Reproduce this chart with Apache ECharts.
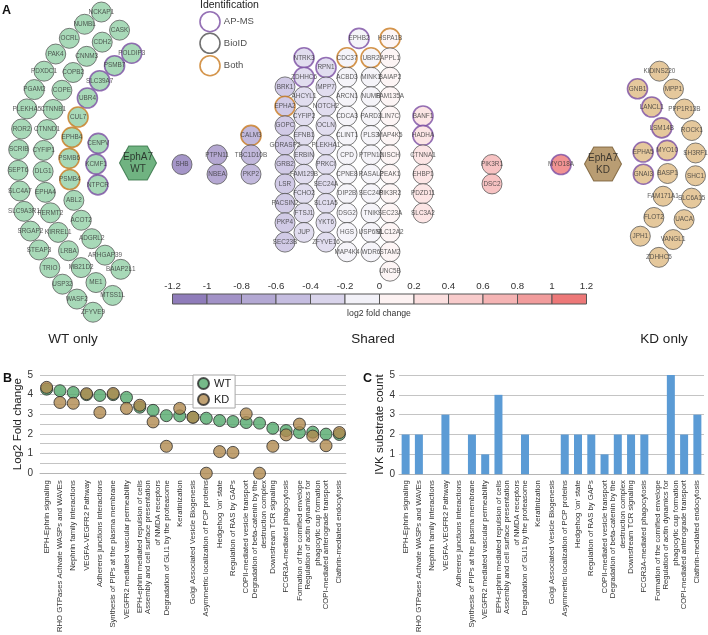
<!DOCTYPE html>
<html><head><meta charset="utf-8">
<script src="https://cdn.jsdelivr.net/npm/echarts@6/dist/echarts.min.js"></script>
<style>html,body{margin:0;padding:0;background:#fff}#c{width:708px;height:635px}</style>
</head><body><div id="c"></div>
<script>
// ================= DATA =================
// Panels B and C: Reactome pathways
const categories = [
  'EPH-Ephrin signaling',
  'RHO GTPases Activate WASPs and WAVEs',
  'Nephrin family interactions',
  'VEGFA-VEGFR2 Pathway',
  'Adherens junctions interactions',
  'Synthesis of PIPs at the plasma membrane',
  'VEGFR2 mediated vascular permeability',
  'EPH-ephrin mediated repulsion of cells',
  'Assembly and cell surface presentation\nof NMDA receptors',
  'Degradation of GLI1 by the proteasome',
  'Keratinization',
  'Golgi Associated Vesicle Biogenesis',
  'Asymmetric localization of PCP proteins',
  "Hedgehog 'on' state",
  'Regulation of RAS by GAPs',
  'COPII-mediated vesicle transport',
  'Degradation of beta-catenin by the\ndestruction complex',
  'Downstream TCR signaling',
  'FCGR3A-mediated phagocytosis',
  'Formation of the cornified envelope',
  'Regulation of actin dynamics for\nphagocytic cup formation',
  'COPI-mediated anterograde transport',
  'Clathrin-mediated endocytosis'
];
const wtFold = [4.28,4.20,4.11,4.00,3.96,4.00,3.86,3.36,3.20,2.93,2.92,2.85,2.80,2.68,2.63,2.58,2.55,2.29,2.17,2.07,2.09,1.99,1.97];
const kdFold = [4.37,3.60,3.56,4.05,3.09,4.06,3.30,3.46,2.61,1.37,3.30,2.85,0.00,1.10,1.06,3.02,0.00,1.37,1.95,2.50,1.89,1.40,2.07];
const ivkCount = [2,2,0,3,0,2,1,4,0,2,0,0,2,2,2,1,2,2,2,0,5,2,3];

// Panel A: interactors
const wtOuter  = ['NCKAP1','NUMBL','OCRL','PAK4','PDXDC1','PGAM2','PLEKHA5','ROR2','SCRIB','SEPT6','SLC4A7','SLC9A3R1','SRGAP2','STEAP3','TRIO','USP32','WASF2','ZFYVE9'];
const wtSecond = ['CASK','CDH2','CNNM3','COPB2','COPE','CTNNB1','CTNND1','CYFIP1','DLG1','EPHA4','FERMT2','KIRREL1','LRBA','MB21D2','ME1','MTSS1L'];
const wtThird  = ['POLDIP3','PSMB7','SLC39A7','UBR4','CUL7','EPHB4','PSMB6','PSMB4','ABL2','ACOT2','ADGRL2','ARHGAP39','BAIAP2L1'];
const wtInner  = ['CENPV','KCMF1','NTPCR'];

const kdOuter  = ['KIDINS220','MPP1','PPP1R13B','ROCK1','SH3RF1','SHC1','SLC6A15','UACA','VANGL1','ZDHHC5'];
const kdSecond = ['GNB1','LANCL1','LSM14B','MYO10','BASP1','FAM171A1','FLOT2','JPH1'];
const kdInner  = ['EPHA5','GNAI3'];

const sharedColumns = [
  ['SHB'],
  ['PTPN11','NBEA'],
  ['CALM3','TBC1D10B','PKP2'],
  ['BRK1','EPHA2','GOPC','GORASP2','GRB2','LSR','PACSIN2','PKP4','SEC23B'],
  ['NTRK3','ZDHHC6','AHCYL1','CYFIP2','EFNB1','ERBIN','FAM129B','FCHO2','FTSJ1','JUP'],
  ['RPN1','MPP7','NOTCH2','OCLN','PLEKHA1','PRKCI','SEC24A','SLC1A5','YKT6','ZFYVE16'],
  ['EPHB2'],
  ['CDC37','ACBD3','ARCN1','CDCA3','CLINT1','CPD','CPNE8','DIP2B','DSG2','HGS','MAP4K4'],
  ['UBR2','MINK1','NUMB','PARD3','PLS3','PTPN12','RASAL2','SEC24B','TNIK','USP6NL','WDR6'],
  ['HSPA1B','APPL1','BAIAP2','FAM135A','LIN7C','MAP4K5','NISCH','PEAK1','PIK3R2','SEC23A','SLC12A2','STAM2','UNC5B'],
  ['BANF1','HADHA','CTNNA1','EHBP1','PDZD11','SLC3A2'],
  ['PIK3R1','DSC2'],
  ['MYO18A']
];
const sharedColumnFold = [-1.1,-0.9,-0.7,-0.5,-0.3,-0.3,-0.1,-0.1,-0.1,0.1,0.3,0.7,1.1];

const apmsOnly = ['POLDIP3','PSMB7','SLC39A7','UBR4','CENPV','KCMF1','NTPCR','NTRK3','ZDHHC6','RPN1','EPHB2','BANF1','HADHA','MYO18A','GNB1','LANCL1','LSM14B','MYO10','EPHA5','GNAI3'];
const bothMethods = ['CUL7','EPHB4','PSMB6','PSMB4','CALM3','EPHA2','CDC37','UBR2','HSPA1B'];

const colorbarBreaks = [-1.2,-1,-0.8,-0.6,-0.4,-0.2,0,0.2,0.4,0.6,0.8,1,1.2];
const identificationLabels = ['AP-MS','BioID','Both'];

// ================= STYLE / LAYOUT =================
const FONT = '"Liberation Sans", Arial, Helvetica, sans-serif';
const palette = ['#8f7cba','#a292c7','#b3a8d3','#c5bde0','#d9d4eb','#f2f1f8','#fdf2f2','#fbdfdf','#f8cbcb','#f5b4b4','#f19c9c','#ed7878'];
const PURPLE = '#7a4ea3', ORANGE = '#c97a1f', GRAY = '#4d4d4d';
const WT_FILL = '#92cfa6', KD_FILL = '#dfba83';

// layout (pixel space of the hidden panel-A axes)
const wtCenter = [200,165];
const wtArcs = [ {r:182, step:6.54, mid:181.6}, {r:157, step:7.69, mid:181.5}, {r:131, step:9.28, mid:182.9}, {r:104, step:11.5, mid:180.5} ];
const kdCenter = [560,164];
const kdArcs = [ {r:136, step:9.6, mid:0.15}, {r:108, step:12.3, mid:-1.1}, {r:84, step:15.2, mid:-0.6} ];
const sharedColX = [182,217,251,285,304,326,359,347,371,390,423,492,561];
const sharedColRow0 = [0,-0.5,-1.5,-4,-5.5,-5,-6.5,-5.5,-5.5,-6.5,-2.5,0,0];
const rowY0 = 164.5, rowStep = 19.4;
const hexWT = [138,163], hexKD = [603,164];
const legendCol = [210, [21.7,43.3,65.7]];

function arc(names, c, a, dir){
  const n = names.length;
  return names.map((nm,i)=>{
    const ang = (a.mid + dir*((n-1)/2 - i)*a.step)*Math.PI/180;
    return [c[0] + a.r*Math.cos(ang), c[1] + a.r*Math.sin(ang)];
  });
}
function binColor(v){
  for (let i=0;i<palette.length;i++){ if (v>=colorbarBreaks[i] && v<colorbarBreaks[i+1]) return palette[i]; }
  return palette[palette.length-1];
}
function node(name,pos,fill){
  const ap = apmsOnly.includes(name), bo = bothMethods.includes(name);
  return {name, value:pos, itemStyle:{color:fill, borderColor: ap?PURPLE:(bo?ORANGE:GRAY), borderWidth:(ap||bo)?1.6:0.9}};
}

const nodes = [];
[wtOuter,wtSecond,wtThird,wtInner].forEach((s,k)=>{
  arc(s,wtCenter,wtArcs[k],1).forEach((p,i)=>nodes.push(node(s[i],p,WT_FILL)));
});
[kdOuter,kdSecond,kdInner].forEach((s,k)=>{
  arc(s,kdCenter,kdArcs[k],-1).forEach((p,i)=>nodes.push(node(s[i],p,KD_FILL)));
});
sharedColumns.forEach((col,c)=>{
  col.forEach((nm,i)=>{
    nodes.push(node(nm,[sharedColX[c], rowY0 + rowStep*(sharedColRow0[c]+i)], binColor(sharedColumnFold[c])));
  });
});

const cbSegments = colorbarBreaks.slice(0,-1).map((b,i)=>[b, colorbarBreaks[i+1], i]);

const catLabelB = {rotate:90, interval:0, fontSize:7.7, lineHeight:9.5, color:'#333', margin:7, fontFamily:FONT};
const catLabelC = Object.assign({}, catLabelB, {margin:6});

const option = {
  animation:false,
  textStyle:{fontFamily:FONT},
  grid:[
    {left:0, top:0, width:708, height:330},
    {left:172.5, top:294, width:414, height:10},
    {left:40, top:375, width:306, height:98.5},
    {left:399, top:375, width:305, height:100}
  ],
  xAxis:[
    {gridIndex:0, type:'value', min:0, max:708, show:false},
    {gridIndex:1, type:'value', min:-1.2, max:1.2, interval:0.2, position:'top',
      axisLine:{show:false}, axisTick:{show:false}, splitLine:{show:false},
      axisLabel:{fontSize:9.7, color:'#333', margin:3, formatter:v=>String(Math.round(v*10)/10)}},
    {gridIndex:2, type:'category', data:categories, axisTick:{show:false},
      axisLine:{lineStyle:{color:'#b5b5b5'}}, axisLabel:catLabelB},
    {gridIndex:3, type:'category', data:categories, axisTick:{show:false},
      axisLine:{lineStyle:{color:'#b5b5b5'}}, axisLabel:catLabelC}
  ],
  yAxis:[
    {gridIndex:0, type:'value', min:0, max:330, inverse:true, show:false},
    {gridIndex:1, type:'value', min:0, max:1, show:false},
    {gridIndex:2, type:'value', min:0, max:5, interval:0.5,
      axisLine:{show:false}, axisTick:{show:false},
      splitLine:{lineStyle:{color:'#c4c4c4', width:1}},
      axisLabel:{fontSize:10, color:'#333', margin:7, formatter:v=>Number.isInteger(v)?String(v):''},
      name:'Log2 Fold change', nameLocation:'middle', nameGap:11, nameTextStyle:{fontSize:11.5, color:'#222'}},
    {gridIndex:3, type:'value', min:0, max:5, interval:1,
      axisLine:{show:false}, axisTick:{show:false},
      splitLine:{lineStyle:{color:'#c4c4c4', width:1}},
      axisLabel:{fontSize:10, color:'#333', margin:4},
      name:'IVK substrate count', nameLocation:'middle', nameGap:8, nameTextStyle:{fontSize:11.5, color:'#222'}}
  ],
  legend:{data:['WT','KD'], left:193, top:375, orient:'vertical', icon:'circle',
    itemWidth:11, itemHeight:11, itemGap:3, padding:[2,4,2,4],
    backgroundColor:'#fff', borderColor:'#a8a8a8', borderWidth:1, selectedMode:false,
    textStyle:{fontSize:11, color:'#222'}},
  series:[
    {type:'scatter', name:'interactors', xAxisIndex:0, yAxisIndex:0, symbol:'circle', symbolSize:20,
      data:nodes, silent:true, clip:false,
      label:{show:true, position:'inside', formatter:'{b}', fontSize:6.4, color:'#333'}},
    {type:'scatter', name:'baits', xAxisIndex:0, yAxisIndex:0,
      symbol:'path://M0,50L25,0L75,0L100,50L75,100L25,100Z', symbolSize:[37,34], silent:true, clip:false,
      data:[
        {name:'EphA7\nWT', value:hexWT, itemStyle:{color:'#4ca062', borderColor:'#2f6e42', borderWidth:1}},
        {name:'EphA7\nKD', value:hexKD, itemStyle:{color:'#a88550', borderColor:'#74592f', borderWidth:1}}
      ],
      label:{show:true, position:'inside', formatter:'{b}', fontSize:10, lineHeight:12, color:'#1a1a1a'}},
    {type:'scatter', name:'identification', xAxisIndex:0, yAxisIndex:0, symbol:'circle', symbolSize:20, silent:true, clip:false,
      data: identificationLabels.map((t,i)=>({name:t, value:[legendCol[0], legendCol[1][i]],
        itemStyle:{color:'#fff', borderColor:[PURPLE,GRAY,ORANGE][i], borderWidth:1.6}})),
      label:{show:true, position:'right', distance:3, formatter:'{b}', fontSize:9.5, color:'#222'}},
    {type:'custom', name:'colorbar', xAxisIndex:1, yAxisIndex:1, data:cbSegments, silent:true, clip:false,
      encode:{x:[0,1]},
      renderItem:(params,api)=>{
        const p0 = api.coord([api.value(0),1]);
        const p1 = api.coord([api.value(1),0]);
        return {type:'rect', shape:{x:p0[0], y:p0[1], width:p1[0]-p0[0], height:p1[1]-p0[1]},
          style:{fill:palette[api.value(2)], stroke:'#555', lineWidth:1}};
      }},
    {type:'scatter', name:'WT', xAxisIndex:2, yAxisIndex:2, data:wtFold, symbolSize:12, clip:false,
      itemStyle:{color:'#52a96b', borderColor:'#2a2a2a', borderWidth:1}, z:3},
    {type:'scatter', name:'KD', xAxisIndex:2, yAxisIndex:2, data:kdFold, symbolSize:12, clip:false,
      itemStyle:{color:'#b08a4f', borderColor:'#2a2a2a', borderWidth:1}, z:4},
    {type:'bar', name:'IVK', xAxisIndex:3, yAxisIndex:3, data:ivkCount, barWidth:8,
      itemStyle:{color:'#5b9bd5'}}
  ],
  graphic:[
    {type:'text', left:2, top:4, style:{text:'A', fontSize:12.5, fontWeight:'bold', fontFamily:FONT, fill:'#111'}},
    {type:'text', left:3, top:372, style:{text:'B', fontSize:12.5, fontWeight:'bold', fontFamily:FONT, fill:'#111'}},
    {type:'text', left:363, top:372, style:{text:'C', fontSize:12.5, fontWeight:'bold', fontFamily:FONT, fill:'#111'}},
    {type:'text', left:200, top:0, style:{text:'Identification', fontSize:10.5, fontFamily:FONT, fill:'#222'}},
    {type:'text', x:379, y:314, style:{text:'log2 fold change', fontSize:8.7, fontFamily:FONT, fill:'#333', align:'center', verticalAlign:'middle'}},
    {type:'text', x:73, y:339, style:{text:'WT only', fontSize:13.5, fontFamily:FONT, fill:'#222', align:'center', verticalAlign:'middle'}},
    {type:'text', x:373, y:339, style:{text:'Shared', fontSize:13.5, fontFamily:FONT, fill:'#222', align:'center', verticalAlign:'middle'}},
    {type:'text', x:664, y:339, style:{text:'KD only', fontSize:13.5, fontFamily:FONT, fill:'#222', align:'center', verticalAlign:'middle'}}
  ]
};
const chart = echarts.init(document.getElementById('c'), null, {renderer:'canvas'});
chart.setOption(option);
</script></body></html>
